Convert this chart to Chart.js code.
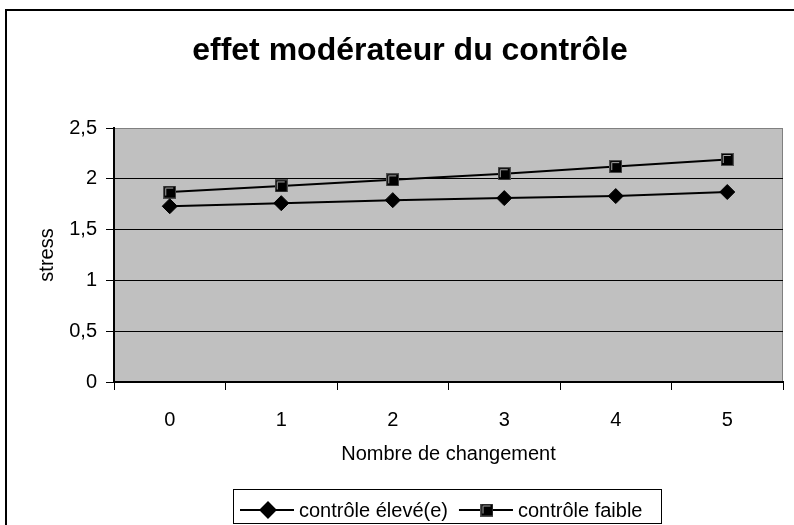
<!DOCTYPE html>
<html>
<head>
<meta charset="utf-8">
<script src="https://cdn.jsdelivr.net/npm/chart.js@4/dist/chart.umd.min.js"></script>
<style>
  body { margin: 0; background: #fff; overflow: hidden; }
  canvas { display: block; }
</style>
</head>
<body>
<canvas id="grafico" width="794" height="525"></canvas>
<script>
const titre = "effet modérateur du contrôle";
const changements = ["0", "1", "2", "3", "4", "5"];
const controleEleve = [1.73, 1.76, 1.79, 1.81, 1.83, 1.87];
const controleFaible = [1.87, 1.93, 1.99, 2.05, 2.12, 2.19];
const yTicks = [0, 0.5, 1, 1.5, 2, 2.5];
const police = "'Liberation Sans', Arial, sans-serif";

// petit carré noir avec reflet gris (style Excel)
function carre() {
  const c = document.createElement("canvas");
  c.width = 13; c.height = 13;
  const g = c.getContext("2d");
  g.fillStyle = "#000";
  g.fillRect(0, 0, 13, 13);
  g.strokeStyle = "#505050";
  g.lineWidth = 1;
  g.strokeRect(0.5, 0.5, 12, 12);
  g.strokeStyle = "#a8a8a8";
  g.beginPath();
  g.moveTo(2.5, 10);
  g.lineTo(2.5, 2.5);
  g.lineTo(10, 2.5);
  g.stroke();
  return c;
}

const cadre = {
  id: "cadre",
  beforeDraw(chart) {
    const { ctx, chartArea: a } = chart;
    ctx.save();
    ctx.fillStyle = "#c0c0c0";
    ctx.fillRect(a.left, a.top, a.right - a.left, a.bottom - a.top);
    ctx.strokeStyle = "#808080";
    ctx.lineWidth = 1;
    ctx.beginPath();
    ctx.moveTo(a.left, a.top + 0.5);
    ctx.lineTo(a.right - 0.5, a.top + 0.5);
    ctx.lineTo(a.right - 0.5, a.bottom);
    ctx.stroke();
    // cadre extérieur
    ctx.strokeStyle = "#000";
    ctx.lineWidth = 2;
    ctx.beginPath();
    ctx.moveTo(6, 530);
    ctx.lineTo(6, 10);
    ctx.lineTo(800, 10);
    ctx.stroke();
    ctx.restore();
  },
  afterDraw(chart) {
    const ctx = chart.ctx;
    ctx.save();
    ctx.fillStyle = "#000";
    ctx.textAlign = "center";
    ctx.textBaseline = "middle";
    ctx.font = "bold 32px " + police;
    ctx.fillText(titre, 410, 51);

    // légende
    ctx.strokeStyle = "#000";
    ctx.lineWidth = 1;
    ctx.strokeRect(233.5, 489.5, 428, 34);
    ctx.font = "20px " + police;
    ctx.textAlign = "left";
    let x = 240;
    const y = 510;
    chart.data.datasets.forEach((ds) => {
      ctx.strokeStyle = "#000";
      ctx.lineWidth = 2;
      ctx.beginPath();
      ctx.moveTo(x, y);
      ctx.lineTo(x + 54, y);
      ctx.stroke();
      Chart.helpers.drawPoint(ctx, {
        pointStyle: ds.pointStyle, radius: ds.pointRadius, rotation: 0, borderWidth: 1
      }, x + 28, y);
      ctx.fillStyle = "#000";
      ctx.fillText(ds.label, x + 59, y + 1);
      x += 59 + ctx.measureText(ds.label).width + 11;
    });
    ctx.restore();
  }
};

const ctx = document.getElementById("grafico").getContext("2d");
new Chart(ctx, {
  type: "line",
  data: {
    labels: changements,
    datasets: [
      {
        label: "contrôle élevé(e)",
        data: controleEleve,
        borderColor: "#000",
        backgroundColor: "#000",
        borderWidth: 2,
        pointStyle: "rectRot",
        pointRadius: 7.5,
        pointBorderWidth: 1,
        tension: 0
      },
      {
        label: "contrôle faible",
        data: controleFaible,
        borderColor: "#000",
        backgroundColor: "#000",
        borderWidth: 2,
        pointStyle: carre(),
        pointRadius: 7,
        tension: 0
      }
    ]
  },
  options: {
    responsive: false,
    animation: false,
    devicePixelRatio: 1,
    events: [],
    layout: { padding: { top: 128, right: 11, bottom: 59, left: 0 } },
    plugins: {
      legend: { display: false },
      title: { display: false },
      tooltip: { enabled: false }
    },
    scales: {
      x: {
        offset: true,
        grid: { offset: true, drawOnChartArea: false, color: "#000", lineWidth: 1, tickLength: 8 },
        border: { color: "#000", width: 2 },
        ticks: { color: "#000", font: { family: police, size: 20 }, padding: 18, maxRotation: 0 },
        title: {
          display: true, text: "Nombre de changement", color: "#000",
          font: { family: police, size: 20 }, padding: { top: 0, bottom: 0 }
        },
        afterFit(s) { s.height = 84; }
      },
      y: {
        min: 0,
        max: 2.5,
        afterBuildTicks(s) { s.ticks = yTicks.map(v => ({ value: v })); },
        grid: {
          color: (c) => (c.tick && c.tick.value === 2.5 ? "#808080" : "#000"),
          tickColor: "#000",
          lineWidth: 1,
          tickLength: 8
        },
        border: { color: "#000", width: 2 },
        ticks: {
          color: "#000", font: { family: police, size: 20 }, padding: 9,
          callback: (v) => String(v).replace(".", ",")
        },
        title: {
          display: true, text: "stress", color: "#000",
          font: { family: police, size: 20 }, padding: { top: 35, bottom: 0 }
        },
        afterFit(s) { s.width = 114; }
      }
    }
  },
  plugins: [cadre]
});
</script>
</body>
</html>
